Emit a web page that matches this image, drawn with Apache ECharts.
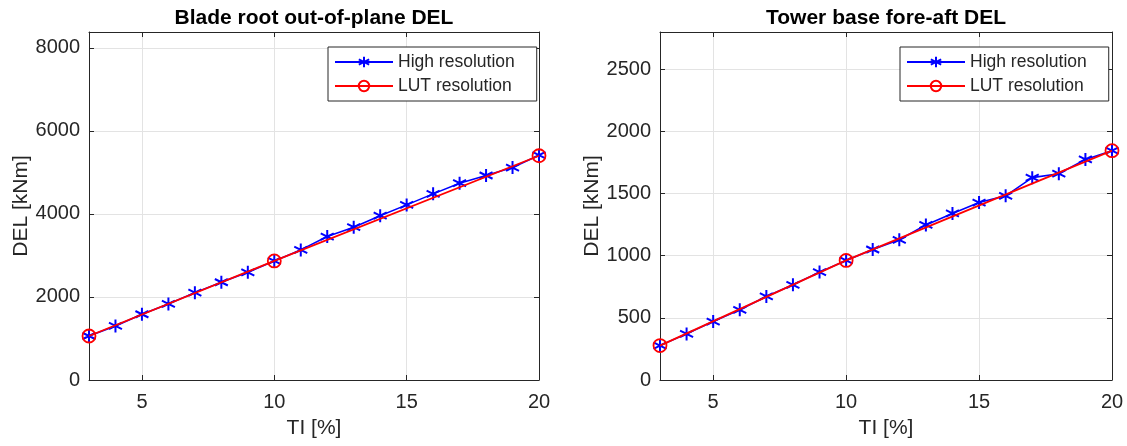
<!DOCTYPE html>
<html>
<head>
<meta charset="utf-8">
<style>
  html, body { margin: 0; padding: 0; background: #fff; }
  #chart { width: 1127px; height: 446px; }
</style>
<script src="https://cdn.jsdelivr.net/npm/echarts@6/dist/echarts.min.js"></script>
</head>
<body>
<div id="chart"></div>
<script>
// TI values (x axis)
const tiHigh = [3, 4, 5, 6, 7, 8, 9, 10, 11, 12, 13, 14, 15, 16, 17, 18, 19, 20];
const tiLut = [3, 10, 20];

// Blade root out-of-plane DEL [kNm]
const bladeHigh = [1060, 1301, 1583, 1831, 2104, 2354, 2594, 2867, 3133, 3454, 3679, 3956, 4217, 4482, 4739, 4924, 5116, 5414];
const bladeLut = [1060, 2867, 5400];

// Tower base fore-aft DEL [kNm]
const towerHigh = [277, 371, 470, 565, 672, 766, 868, 962, 1050, 1128, 1248, 1340, 1428, 1482, 1628, 1660, 1775, 1845];
const towerLut = [277, 962, 1845];

const xTicks = [5, 10, 15, 20];
const bladeTicks = [0, 2000, 4000, 6000, 8000];
const towerTicks = [0, 500, 1000, 1500, 2000, 2500];

const FONT = 'Liberation Sans, Arial, Helvetica, sans-serif';
const AX = '#262626';
const GRID = '#e3e3e3';
const asterisk = 'path://M5 0 L5 10 M0.67 2.5 L9.33 7.5 M0.67 7.5 L9.33 2.5';

const pairs = (xs, ys) => xs.map((x, i) => [x, ys[i]]);
const plain = (v) => String(v);

const chart = echarts.init(document.getElementById('chart'));

const xAxisFor = (grid, pos) => ({
  type: 'value', gridIndex: grid, position: pos, min: 3, max: 20,
  name: pos === 'bottom' ? 'TI [%]' : '',
  nameLocation: 'middle', nameGap: 38,
  nameTextStyle: { fontFamily: FONT, fontSize: 21, color: AX },
  axisLine: { show: true, onZero: false, lineStyle: { color: AX, width: 1 } },
  axisTick: { show: true, inside: true, length: 5, customValues: xTicks, lineStyle: { color: AX } },
  axisLabel: { show: pos === 'bottom', customValues: xTicks, formatter: plain, fontFamily: FONT, fontSize: 20, color: AX, margin: 12 },
  splitLine: { show: pos === 'bottom', lineStyle: { color: GRID, width: 1 } }
});

const yAxisFor = (grid, pos, max, ticks) => ({
  type: 'value', gridIndex: grid, position: pos, min: 0, max: max,
  name: pos === 'left' ? 'DEL [kNm]' : '',
  nameLocation: 'middle', nameGap: 56,
  nameTextStyle: { fontFamily: FONT, fontSize: 21, color: AX },
  axisLine: { show: true, onZero: false, lineStyle: { color: AX, width: 1 } },
  axisTick: { show: true, inside: true, length: 5, customValues: ticks, lineStyle: { color: AX } },
  axisLabel: { show: pos === 'left', customValues: ticks, formatter: plain, fontFamily: FONT, fontSize: 20, color: AX, margin: 9 },
  splitLine: { show: pos === 'left', lineStyle: { color: GRID, width: 1 } }
});

const highSeries = (idx, data) => ({
  name: 'High resolution', type: 'line', xAxisIndex: idx, yAxisIndex: idx,
  data: data, symbol: asterisk, symbolSize: 13, showAllSymbol: true,
  lineStyle: { color: '#0000ff', width: 1.6 },
  itemStyle: { color: '#0000ff', borderColor: '#0000ff', borderWidth: 2 },
  emphasis: { disabled: true }, animation: false, z: 2
});

const lutSeries = (idx, data) => ({
  name: 'LUT resolution', type: 'line', xAxisIndex: idx, yAxisIndex: idx,
  data: data, symbol: 'circle', symbolSize: 13, showAllSymbol: true,
  lineStyle: { color: '#ff0000', width: 1.8 },
  itemStyle: { color: 'rgba(255,255,255,0)', borderColor: '#ff0000', borderWidth: 1.8 },
  emphasis: { disabled: true }, animation: false, z: 3
});

const legendFor = (left) => ({
  orient: 'vertical', left: left, top: 47,
  data: ['High resolution', 'LUT resolution'],
  itemWidth: 58, itemHeight: 13, itemGap: 6,
  padding: [6, 22, 6, 6],
  backgroundColor: '#fff', borderColor: AX, borderWidth: 1, borderRadius: 0,
  textStyle: { fontFamily: FONT, fontSize: 17.5, color: AX },
  selectedMode: false
});

chart.setOption({
  animation: false,
  backgroundColor: '#fff',
  graphic: [
    { type: 'text', x: 314, y: 18, style: { text: 'Blade root out-of-plane DEL', font: 'bold 21px ' + FONT, fill: '#000', textAlign: 'center', textVerticalAlign: 'middle' } },
    { type: 'text', x: 886, y: 18, style: { text: 'Tower base fore-aft DEL', font: 'bold 21px ' + FONT, fill: '#000', textAlign: 'center', textVerticalAlign: 'middle' } }
  ],
  legend: [legendFor(328), legendFor(900)],
  grid: [
    { left: 89, top: 32, width: 450, height: 348 },
    { left: 660, top: 32, width: 452, height: 348 }
  ],
  xAxis: [xAxisFor(0, 'bottom'), xAxisFor(1, 'bottom'), xAxisFor(0, 'top'), xAxisFor(1, 'top')],
  yAxis: [
    yAxisFor(0, 'left', 8380, bladeTicks), yAxisFor(1, 'left', 2800, towerTicks),
    yAxisFor(0, 'right', 8380, bladeTicks), yAxisFor(1, 'right', 2800, towerTicks)
  ],
  series: [
    highSeries(0, pairs(tiHigh, bladeHigh)),
    lutSeries(0, pairs(tiLut, bladeLut)),
    highSeries(1, pairs(tiHigh, towerHigh)),
    lutSeries(1, pairs(tiLut, towerLut))
  ]
});
</script>
</body>
</html>
